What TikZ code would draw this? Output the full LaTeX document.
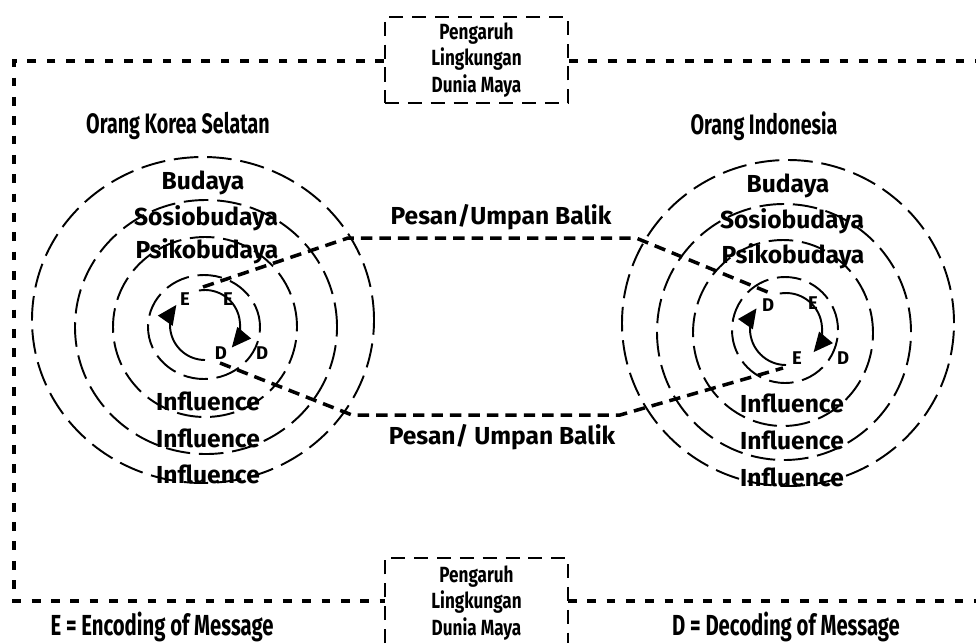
\documentclass[tikz,border=0pt]{standalone}
\usepackage{fontspec}
\setmainfont{Fira Sans}
\newfontfamily\narrowfont[FakeStretch=0.78]{Fira Sans}
\newfontfamily\slimfont[FakeStretch=0.7]{Fira Sans}
\usetikzlibrary{arrows.meta}

\begin{document}
\begin{tikzpicture}[x=0.02cm, y=0.02cm,
    frame/.style={line width=2pt, dash pattern=on 5pt off 6pt},
    boxline/.style={line width=1.2pt, dash pattern=on 8pt off 5pt},
    ring/.style={line width=1.1pt, dash pattern=on 14pt off 5pt},
    msg/.style={line width=2pt, dash pattern=on 6.5pt off 4pt},
    cyc/.style={line width=1.1pt, -{Triangle[length=11pt,width=10pt]}},
    lbl/.style={font=\bfseries\fontsize{14}{16}\selectfont},
    small/.style={font=\bfseries\fontsize{10.5}{11}\selectfont},
    title/.style={font=\slimfont\bfseries\fontsize{16}{18}\selectfont},
    legend/.style={font=\slimfont\bfseries\fontsize{16.5}{18}\selectfont},
    boxtxt/.style={font=\narrowfont\bfseries\fontsize{12.5}{15}\selectfont, align=center}]
    \useasboundingbox (0,0) rectangle (976,-643);

    % Outer frame with the two boxes
    \node[boxline, draw, minimum width=183*0.02cm, minimum height=86*0.02cm, boxtxt] (topbox) at (476.5,-60) {Pengaruh\\Lingkungan\\Dunia Maya};
    \draw[boxline] (385,-643) -- (385,-558) -- (568,-558) -- (568,-643);
    \node[boxtxt] (botbox) at (476.5,-603) {Pengaruh\\Lingkungan\\Dunia Maya};
    \coordinate (tl) at (14,-61);
    \coordinate (bl) at (14,-601);
    \coordinate (tr) at (976,-61);
    \coordinate (br) at (976,-601);
    \draw[frame] (topbox.west |- tl) -- (tl) -- (bl) -- (385,-601);
    \draw[frame] (topbox.east |- tr) -- (tr);
    \draw[frame] (568,-601) -- (br);

    % Titles
    \node[title] (korea) at (178,-126) {Orang Korea Selatan};
    \node[title] (indo) at (764,-126) {Orang Indonesia};

    % Left rings
    \draw[ring] (203,-320) ellipse [x radius=171, y radius=163];
    \draw[ring] (206,-327) ellipse [x radius=131, y radius=127];
    \draw[ring] (205,-327) ellipse [x radius=92, y radius=90];
    \draw[ring] (204,-327) ellipse [x radius=56, y radius=52];
    % Right rings
    \draw[ring] (788,-323) ellipse [x radius=166, y radius=163];
    \draw[ring] (784,-332) ellipse [x radius=127, y radius=128];
    \draw[ring] (783,-333) ellipse [x radius=90, y radius=93];
    \draw[ring] (785,-330) ellipse [x radius=53, y radius=53];

    % Encoding / decoding cycles
    \draw[cyc] (205,-325) ++(270:35) arc[start angle=270, end angle=145, radius=35];
    \draw[cyc] (205,-325) ++(100:35) arc[start angle=100, end angle=-40, radius=35];
    \draw[cyc] (786,-329) ++(270:36) arc[start angle=270, end angle=145, radius=36];
    \draw[cyc] (786,-329) ++(100:36) arc[start angle=100, end angle=-40, radius=36];
    \node[small] (le1) at (185,-299) {E};
    \node[small] (le2) at (228,-299) {E};
    \node[small] (ld1) at (221,-353) {D};
    \node[small] (ld2) at (262,-353) {D};
    \node[small] (rd1) at (768,-305) {D};
    \node[small] (re1) at (813,-303) {E};
    \node[small] (re2) at (797,-358) {E};
    \node[small] (rd2) at (843,-358) {D};

    % Ring labels
    \node[lbl] (lbud) at (203,-183) {Budaya};
    \node[lbl] (lsos) at (206,-218) {Sosiobudaya};
    \node[lbl] (lpsi) at (207,-251) {Psikobudaya};
    \node[lbl] (linf1) at (208,-401) {Influence};
    \node[lbl] (linf2) at (208,-438) {Influence};
    \node[lbl] (linf3) at (208,-474) {Influence};
    \node[lbl] (rbud) at (788,-186) {Budaya};
    \node[lbl] (rsos) at (792,-221) {Sosiobudaya};
    \node[lbl] (rpsi) at (793,-256) {Psikobudaya};
    \node[lbl] (rinf1) at (792,-403) {Influence};
    \node[lbl] (rinf2) at (792,-440) {Influence};
    \node[lbl] (rinf3) at (792,-477) {Influence};

    % Message lines
    \coordinate (ua) at (203,-287);
    \coordinate (ub) at (348,-238);
    \coordinate (uc) at (636,-238);
    \coordinate (ud) at (770,-293);
    \coordinate (la) at (220,-363);
    \coordinate (lb) at (352,-415);
    \coordinate (lc) at (620,-415);
    \coordinate (ld) at (783,-368);
    \draw[msg] (ua) -- (ub) -- (uc) -- (ud);
    \draw[msg] (la) -- (lb) -- (lc) -- (ld);
    \node[lbl] (pesan1) at (501,-217) {Pesan/Umpan Balik};
    \node[lbl] (pesan2) at (502,-437) {Pesan/ Umpan Balik};

    % Legend
    \node[legend] (enc) at (162,-627) {E = Encoding of Message};
    \node[legend] (dec) at (786,-627) {D = Decoding of Message};
\end{tikzpicture}
\end{document}
